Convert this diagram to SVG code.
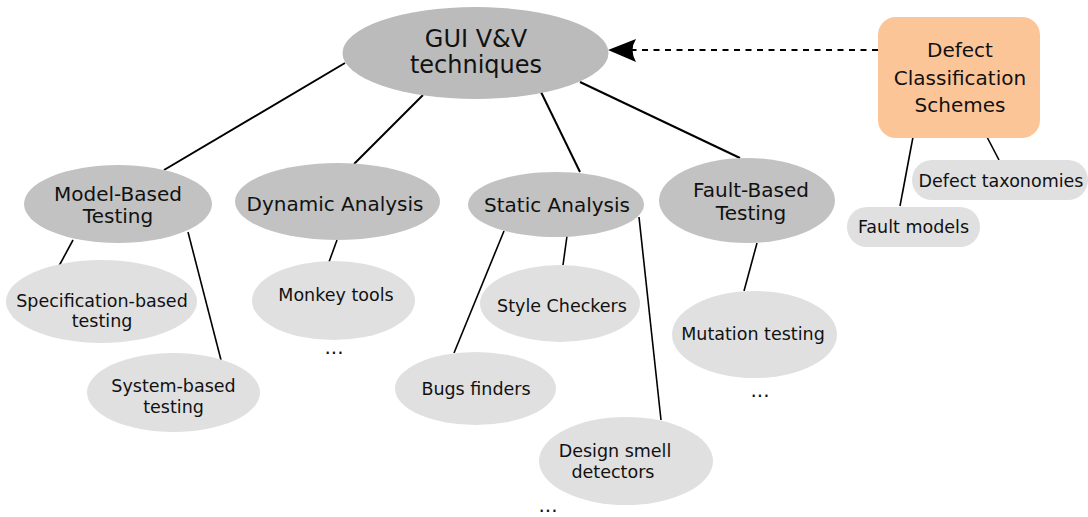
<svg xmlns="http://www.w3.org/2000/svg" width="1088" height="517" viewBox="0 0 1088 517">
<style>
text{font-family:"DejaVu Sans","Verdana",sans-serif;fill:#111;text-anchor:middle}
.main{fill:#bbbbbb}
.mid{fill:#c2c2c2}
.leaf{fill:#e0e0e0}
.orange{fill:#fcc598}
.t24{font-size:24px}
.t20{font-size:20px}
.t17{font-size:17.5px}
.c{stroke:#000;stroke-width:2;fill:none}
.c2{stroke:#000;stroke-width:1.6;fill:none}
</style>
<rect width="1088" height="517" fill="#fff"/>
<g id="connectors">
<line class="c" x1="345" y1="63" x2="164" y2="170"/>
<line class="c" x1="423" y1="95" x2="354" y2="164"/>
<line class="c" x1="541" y1="92" x2="580" y2="172"/>
<line class="c" x1="580" y1="82" x2="740" y2="158"/>
<line class="c2" x1="73" y1="240" x2="59" y2="266"/>
<line class="c2" x1="188" y1="232" x2="221" y2="360"/>
<line class="c2" x1="337" y1="240" x2="329" y2="262"/>
<line class="c2" x1="504" y1="231" x2="454" y2="353"/>
<line class="c2" x1="567" y1="236" x2="563" y2="265"/>
<line class="c2" x1="639" y1="217" x2="661" y2="420"/>
<line class="c2" x1="757" y1="243" x2="744" y2="291"/>
<line class="c2" x1="913" y1="137" x2="900" y2="206"/>
<line class="c2" x1="987" y1="137" x2="999" y2="160"/>
<line stroke="#000" stroke-width="2" stroke-dasharray="6,5.5" x1="878" y1="50" x2="630" y2="50"/>
<path d="M608,50 L636,39 Q629,50 636,62 Z" fill="#000"/>
</g>
<g id="gui">
<ellipse class="main" cx="475.5" cy="53" rx="133" ry="46"/>
<text class="t24" x="476" y="47">GUI V&amp;V</text>
<text class="t24" x="476" y="73">techniques</text>
</g>
<g id="dcs">
<rect class="orange" x="878" y="17" width="162" height="121" rx="18"/>
<text class="t20" x="960" y="57">Defect</text>
<text class="t20" x="960" y="85">Classification</text>
<text class="t20" x="960" y="112">Schemes</text>
</g>
<g id="taxonomies">
<rect class="leaf" x="912" y="160" width="176" height="40" rx="20"/>
<text class="t17" x="1001" y="187">Defect taxonomies</text>
</g>
<g id="faultmodels">
<rect class="leaf" x="847" y="207" width="133" height="40" rx="20"/>
<text class="t17" x="913.5" y="233">Fault models</text>
</g>
<g id="mbt">
<ellipse class="mid" cx="118" cy="204" rx="94" ry="39"/>
<text class="t20" x="118" y="201">Model-Based</text>
<text class="t20" x="118" y="223">Testing</text>
</g>
<g id="spec">
<ellipse class="leaf" cx="101.5" cy="301.5" rx="95.5" ry="41.5"/>
<text class="t17" x="102" y="307">Specification-based</text>
<text class="t17" x="102" y="327">testing</text>
</g>
<g id="system">
<ellipse class="leaf" cx="173.5" cy="392.5" rx="86.5" ry="39.5"/>
<text class="t17" x="173.5" y="392">System-based</text>
<text class="t17" x="173.5" y="413">testing</text>
</g>
<g id="dynamic">
<ellipse class="mid" cx="337.5" cy="201.5" rx="102.5" ry="38.5"/>
<text class="t20" x="335" y="211">Dynamic Analysis</text>
</g>
<g id="monkey">
<ellipse class="leaf" cx="333.5" cy="300.5" rx="81.5" ry="39.5"/>
<text class="t17" x="336" y="301">Monkey tools</text>
</g>
<text class="t20" x="334" y="354">...</text>
<g id="static">
<ellipse class="mid" cx="556" cy="204.5" rx="88" ry="32.5"/>
<text class="t20" x="557" y="212">Static Analysis</text>
</g>
<g id="style">
<ellipse class="leaf" cx="560" cy="303.5" rx="80" ry="38.5"/>
<text class="t17" x="562" y="312">Style Checkers</text>
</g>
<g id="bugs">
<ellipse class="leaf" cx="475.5" cy="388.5" rx="80.5" ry="36.5"/>
<text class="t17" x="476" y="395">Bugs finders</text>
</g>
<g id="design">
<ellipse class="leaf" cx="626" cy="461" rx="87" ry="44"/>
<text class="t17" x="615" y="457">Design smell</text>
<text class="t17" x="613" y="478">detectors</text>
</g>
<text class="t20" x="548" y="512">...</text>
<g id="faultbased">
<ellipse class="mid" cx="747" cy="200.5" rx="88" ry="42.5"/>
<text class="t20" x="751" y="197">Fault-Based</text>
<text class="t20" x="751" y="220">Testing</text>
</g>
<g id="mutation">
<ellipse class="leaf" cx="754.5" cy="334.5" rx="82.5" ry="43.5"/>
<text class="t17" x="753" y="340">Mutation testing</text>
</g>
<text class="t20" x="760" y="397">...</text>
</svg>
